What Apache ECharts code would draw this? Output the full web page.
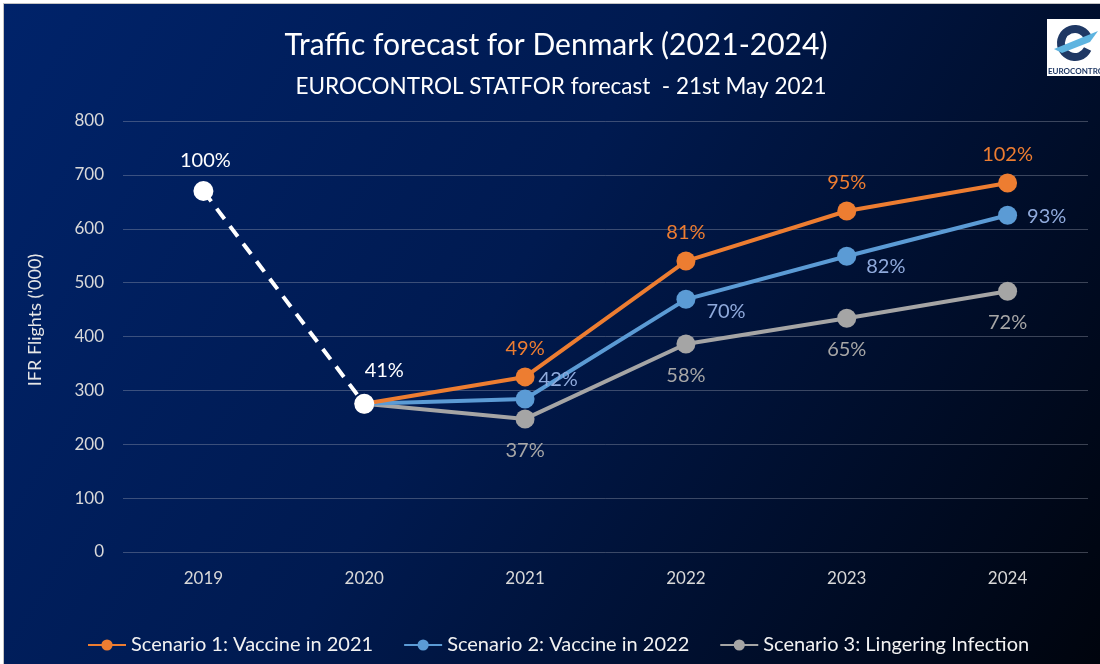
<!DOCTYPE html>
<html>
<head>
<meta charset="utf-8">
<script src="https://cdn.jsdelivr.net/npm/echarts@6/dist/echarts.min.js"></script>
<style>
  html, body { margin: 0; padding: 0; background: #ffffff; width: 1100px; height: 664px; overflow: hidden; }
  #frame { position: absolute; left: 3px; top: 3px; width: 1097px; height: 661px; border-left: 1px solid #c4c4c4; border-top: 1px solid #c4c4c4; }
  #chart { position: absolute; left: 4px; top: 4px; width: 1096px; height: 660px; }
</style>
</head>
<body>
<div id="frame"></div>
<div id="chart"></div>
<script>
// ---- data ----
const years = ['2019', '2020', '2021', '2022', '2023', '2024'];
const yTicks = [0, 100, 200, 300, 400, 500, 600, 700, 800];

const historyName = 'History';
const history = [670, 275, null, null, null, null];
const historyPct = ['100%', '41%', null, null, null, null];

const scenario1Name = 'Scenario 1: Vaccine in 2021';
const scenario1 = [null, 275, 325, 540, 633, 685];
const scenario1Pct = [null, null, '49%', '81%', '95%', '102%'];

const scenario2Name = 'Scenario 2: Vaccine in 2022';
const scenario2 = [null, 275, 284, 469, 549, 625];
const scenario2Pct = [null, null, '42%', '70%', '82%', '93%'];

const scenario3Name = 'Scenario 3: Lingering Infection';
const scenario3 = [null, 275, 247, 386, 434, 484];
const scenario3Pct = [null, null, '37%', '58%', '65%', '72%'];

// ---- label placement (style) ----
const FONT = 'Lato, "Open Sans", sans-serif';
const histPlace = [
  { position: 'top', distance: 10, offset: [2, 0] },
  { position: 'top', distance: 13, offset: [20, 0] }
];
const s1Place = { position: 'top', distance: 9 };
const s2Place = [null, null,
  { position: 'right', distance: 4, offset: [0, -19] },
  { position: 'right', distance: 11, offset: [0, 12] },
  { position: 'right', distance: 10, offset: [0, 10] },
  { position: 'right', distance: 10, offset: [0, 1] }
];
const s3Place = { position: 'bottom', distance: 12 };

function buildData(values, pcts, placeFn, color) {
  return values.map(function (v, i) {
    if (v === null) return null;
    const item = { value: v };
    if (pcts[i]) {
      const p = placeFn(i);
      item.label = Object.assign({
        show: true,
        formatter: pcts[i],
        color: color,
        fontSize: 20,
        fontFamily: FONT
      }, p);
    } else {
      item.label = { show: false };
    }
    return item;
  });
}

const chart = echarts.init(document.getElementById('chart'), null, { renderer: 'canvas' });

const option = {
  backgroundColor: {
    type: 'linear', x: 0, y: 0, x2: 1, y2: 1,
    colorStops: [
      { offset: 0, color: '#00236a' },
      { offset: 0.45, color: '#001a50' },
      { offset: 1, color: '#00040d' }
    ]
  },
  animation: false,
  grid: { left: 119, right: 12, top: 117, bottom: 112 },
  legend: {
    data: [scenario1Name, scenario2Name, scenario3Name],
    left: 78,
    top: 626,
    itemWidth: 38,
    itemHeight: 14,
    itemGap: 30,
    textStyle: { color: '#f2f2f2', fontSize: 20, fontFamily: FONT }
  },
  graphic: [
    { type: 'text', x: 552, y: 41, style: { text: 'Traffic forecast for Denmark (2021-2024)', fill: '#ffffff', font: '30px ' + FONT, textAlign: 'center', textVerticalAlign: 'middle' } },
    { type: 'text', x: 557, y: 83, style: { text: 'EUROCONTROL STATFOR forecast  - 21st May 2021', fill: '#ffffff', font: '22.5px ' + FONT, textAlign: 'center', textVerticalAlign: 'middle' } },
    { type: 'text', x: 31, y: 316, rotation: Math.PI / 2, style: { text: "IFR Flights ('000)", fill: '#e6e6e6', font: '18px ' + FONT, textAlign: 'center', textVerticalAlign: 'middle' } },
    // logo
    { type: 'rect', shape: { x: 1043, y: 15, width: 60, height: 57 }, style: { fill: '#ffffff' } },
    { type: 'sector', shape: { cx: 1071, cy: 39, r: 18, r0: 10, startAngle: 0.45, endAngle: Math.PI * 2 - 0.35, clockwise: true }, style: { fill: '#1f3864' } },
    { type: 'polygon', shape: { points: [[1050, 45], [1094, 27], [1086, 38], [1058, 49]] }, style: { fill: '#5eb4e0' } },
    { type: 'text', x: 1044, y: 67, style: { text: 'EUROCONTROL', fill: '#1f3864', font: 'bold 8px ' + FONT, textAlign: 'left', textVerticalAlign: 'middle' } }
  ],
  xAxis: {
    type: 'category',
    data: years,
    boundaryGap: true,
    axisLine: { show: false },
    axisTick: { show: false },
    axisLabel: { color: '#d9d9d9', fontSize: 17, fontFamily: FONT, margin: 18 }
  },
  yAxis: {
    type: 'value',
    min: 0,
    max: 800,
    interval: 100,
    axisLine: { show: false },
    axisTick: { show: false },
    axisLabel: { color: '#d9d9d9', fontSize: 17, fontFamily: FONT, margin: 19,
      formatter: function (v) { return yTicks.indexOf(v) >= 0 ? String(v) : ''; } },
    splitLine: { lineStyle: { color: 'rgba(170,175,190,0.35)', width: 1 } }
  },
  series: [
    {
      name: scenario3Name, type: 'line', z: 2,
      data: buildData(scenario3, scenario3Pct, function () { return s3Place; }, '#a6a6a6'),
      symbol: 'circle', symbolSize: 19,
      lineStyle: { color: '#a5a5a5', width: 4 },
      itemStyle: { color: '#a5a5a5' }
    },
    {
      name: scenario2Name, type: 'line', z: 3,
      data: buildData(scenario2, scenario2Pct, function (i) { return s2Place[i]; }, '#8faadc'),
      symbol: 'circle', symbolSize: 19,
      lineStyle: { color: '#5b9bd5', width: 4 },
      itemStyle: { color: '#5b9bd5' }
    },
    {
      name: scenario1Name, type: 'line', z: 4,
      data: buildData(scenario1, scenario1Pct, function () { return s1Place; }, '#ed7d31'),
      symbol: 'circle', symbolSize: 19,
      lineStyle: { color: '#ed7d31', width: 4 },
      itemStyle: { color: '#ed7d31' }
    },
    {
      name: historyName, type: 'line', z: 5,
      data: buildData(history, historyPct, function (i) { return histPlace[i]; }, '#ffffff'),
      symbol: 'circle', symbolSize: 20,
      lineStyle: { color: '#ffffff', width: 4, type: [13, 9] },
      itemStyle: { color: '#ffffff' }
    }
  ]
};
chart.setOption(option);
</script>
</body>
</html>
